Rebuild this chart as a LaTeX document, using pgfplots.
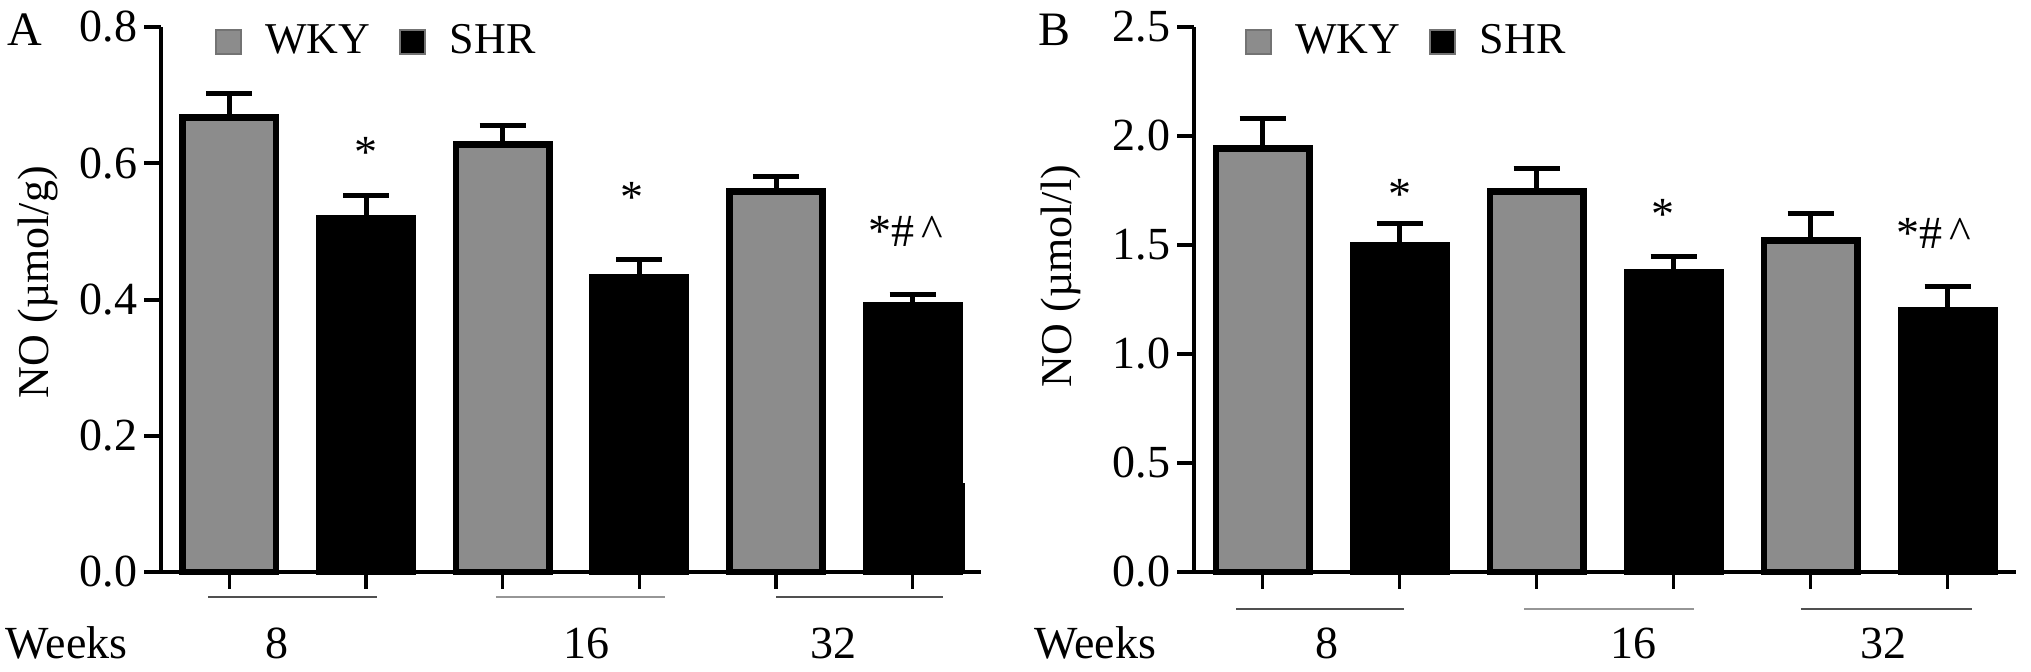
\documentclass[border=0pt]{standalone}
\usepackage{fontspec}
\setmainfont{Liberation Serif}
\usepackage{pgfplots}
\pgfplotsset{compat=1.18}
\definecolor{wkygray}{RGB}{140,140,140}
\definecolor{linedark}{RGB}{80,80,80}
\definecolor{linelight}{RGB}{150,150,150}

\pgfplotsset{
  panel/.style={
    scale only axis,
    width=205pt, height=136.25pt,
    anchor=south west,
    xmin=-0.5, xmax=5.5, ymin=0,
    clip=false,
    axis x line*=bottom, axis y line*=left,
    axis line style={line width=1.1pt, black},
    xtick={0,1,2,3,4,5}, xticklabels={},
    tick align=outside,
    major tick length=4.2pt,
    x tick style={line width=0.9pt, black},
    y tick style={line width=1pt, black},
    every tick label/.append style={font=\fontsize{11.5}{13.8}\selectfont},
    yticklabel style={inner xsep=1.6pt, /pgf/number format/.cd, fixed, fixed zerofill, precision=1, assume math mode=true},
    ybar, bar shift=0pt, bar width=23.3pt,
    legend style={draw=none, fill=none, inner sep=0pt, legend columns=2,
      font=\fontsize{11}{13}\selectfont,
      /tikz/every even column/.append style={column sep=5.2pt}},
  },
  wky/.style={fill=wkygray, draw=black, line width=1.7pt,
    error bars/.cd, y dir=plus, y explicit,
    error bar style={line width=1.25pt, black},
    error mark options={rotate=90, black, line width=1.25pt, mark size=5.75pt}},
  shr/.style={fill=black, draw=black, line width=1.7pt,
    error bars/.cd, y dir=plus, y explicit,
    error bar style={line width=1.25pt, black},
    error mark options={rotate=90, black, line width=1.25pt, mark size=5.75pt}},
}

\begin{document}
\begin{tikzpicture}[font=\fontsize{11.5}{13.8}\selectfont]
\path[use as bounding box] (0,0) rectangle (507.75pt,168pt);

\node[font=\fontsize{12}{14}\selectfont] at (6.25pt,160.5pt) {A};
\node[font=\fontsize{12}{14}\selectfont] at (263.6pt,160.5pt) {B};

% Panel A
\begin{axis}[panel, at={(40.25pt,25pt)}, ymax=0.8,
  ytick={0,0.2,0.4,0.6,0.8},
  legend style={at={(axis description cs:0.0646,0.9725)}, anchor=west}]
\addplot[forget plot, fill=black, draw=none, bar width=6pt, bar shift=10pt] coordinates {(5,0.13)};
\addplot[forget plot, wky] coordinates {(0,0.667) +- (0,0.036) (2,0.628) +- (0,0.027) (4,0.559) +- (0,0.021)};
\addplot[forget plot, shr] coordinates {(1,0.519) +- (0,0.033) (3,0.432) +- (0,0.027) (5,0.391) +- (0,0.016)};
\addlegendimage{legend image code/.code={\draw[fill=wkygray,draw=black!55,line width=0.5pt] (0pt,-3.1pt) rectangle (6.2pt,3.1pt); \path[draw=none,fill=none] (0pt,0pt) -- (10.4pt,0pt);}}
\addlegendentry{WKY}
\addlegendimage{legend image code/.code={\draw[fill=black,draw=black!55,line width=0.5pt] (0pt,-3.1pt) rectangle (6.2pt,3.1pt); \path[draw=none,fill=none] (0pt,0pt) -- (10.4pt,0pt);}}
\addlegendentry{SHR}
\node[rotate=90, font=\fontsize{11}{13}\selectfont] at (axis description cs:-0.1495,0.532) {NO (µmol/g)};
\node[anchor=base] at (axis cs:1.0,0.594) {*};
\node[anchor=base] at (axis cs:2.95,0.528) {*};
\node[anchor=base] at (axis cs:4.95,0.478) {*\#\,\textasciicircum};
\draw[linedark, line width=0.7pt] ([yshift=-6.25pt]axis cs:-0.154,0) -- ([yshift=-6.25pt]axis cs:1.077,0);
\draw[linelight, line width=0.7pt] ([yshift=-6.25pt]axis cs:1.95,0) -- ([yshift=-6.25pt]axis cs:3.19,0);
\draw[linedark, line width=0.7pt] ([yshift=-6.25pt]axis cs:4.0,0) -- ([yshift=-6.25pt]axis cs:5.22,0);
\node at ([yshift=-17.75pt]axis cs:-1.19,0) {Weeks};
\node at ([yshift=-17.75pt]axis cs:0.35,0) {8};
\node at ([yshift=-17.75pt]axis cs:2.61,0) {16};
\node at ([yshift=-17.75pt]axis cs:4.42,0) {32};
\end{axis}

% Panel B
\begin{axis}[panel, at={(298.5pt,25pt)}, width=205.5pt, ymax=2.5,
  ytick={0,0.5,1,1.5,2,2.5},
  legend style={at={(axis description cs:0.0608,0.9725)}, anchor=west}]
\addplot[forget plot, wky] coordinates {(0,1.944) +- (0,0.134) (2,1.744) +- (0,0.108) (4,1.522) +- (0,0.124)};
\addplot[forget plot, shr] coordinates {(1,1.496) +- (0,0.101) (3,1.374) +- (0,0.071) (5,1.198) +- (0,0.110)};
\addlegendimage{legend image code/.code={\draw[fill=wkygray,draw=black!55,line width=0.5pt] (0pt,-3.1pt) rectangle (6.2pt,3.1pt); \path[draw=none,fill=none] (0pt,0pt) -- (10.4pt,0pt);}}
\addlegendentry{WKY}
\addlegendimage{legend image code/.code={\draw[fill=black,draw=black!55,line width=0.5pt] (0pt,-3.1pt) rectangle (6.2pt,3.1pt); \path[draw=none,fill=none] (0pt,0pt) -- (10.4pt,0pt);}}
\addlegendentry{SHR}
\node[rotate=90, font=\fontsize{11}{13}\selectfont] at (axis description cs:-0.1618,0.543) {NO (µmol/l)};
\node[anchor=base] at (axis cs:1.0,1.665) {*};
\node[anchor=base] at (axis cs:2.92,1.573) {*};
\node[anchor=base] at (axis cs:4.90,1.483) {*\#\,\textasciicircum};
\draw[linedark, line width=0.7pt] ([yshift=-9.25pt]axis cs:-0.19,0) -- ([yshift=-9.25pt]axis cs:1.03,0);
\draw[linelight, line width=0.7pt] ([yshift=-9.25pt]axis cs:1.91,0) -- ([yshift=-9.25pt]axis cs:3.15,0);
\draw[linedark, line width=0.7pt] ([yshift=-9.25pt]axis cs:3.93,0) -- ([yshift=-9.25pt]axis cs:5.18,0);
\node at ([yshift=-17.75pt]axis cs:-1.22,0) {Weeks};
\node at ([yshift=-17.75pt]axis cs:0.47,0) {8};
\node at ([yshift=-17.75pt]axis cs:2.71,0) {16};
\node at ([yshift=-17.75pt]axis cs:4.53,0) {32};
\end{axis}
\end{tikzpicture}
\end{document}
